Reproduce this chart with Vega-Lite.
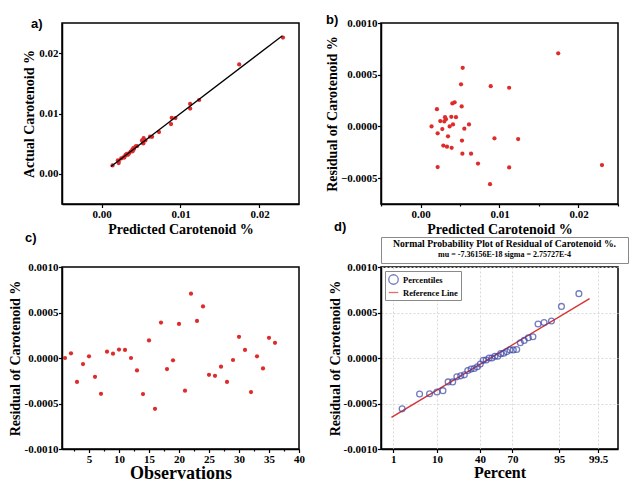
{
  "$schema": "https://vega.github.io/schema/vega-lite/v6.json",
  "background": "white",
  "padding": {"left": 7, "top": 13, "right": 0, "bottom": 0},
  "columns": 2,
  "bounds": "flush",
  "align": "each",
  "spacing": {"row": 4, "column": 82},
  "resolve": {"scale": {"color": "independent", "shape": "independent"}, "legend": {"color": "independent", "shape": "independent"}},
  "datasets": {
    "obs": [
      {"obs":1,"predicted":0.0014,"actual":0.0014,"residual":0.0},
      {"obs":2,"predicted":0.0025,"actual":0.002552,"residual":0.000052},
      {"obs":3,"predicted":0.0053,"actual":0.005037,"residual":-0.000263},
      {"obs":4,"predicted":0.00217,"actual":0.002103,"residual":-0.000067},
      {"obs":5,"predicted":0.00411,"actual":0.004129,"residual":0.000019},
      {"obs":6,"predicted":0.00394,"actual":0.003733,"residual":-0.000207},
      {"obs":7,"predicted":0.00217,"actual":0.001777,"residual":-0.000393},
      {"obs":8,"predicted":0.00322,"actual":0.00329,"residual":0.00007},
      {"obs":9,"predicted":0.00301,"actual":0.003058,"residual":0.000048},
      {"obs":10,"predicted":0.0039,"actual":0.003993,"residual":0.000093},
      {"obs":11,"predicted":0.00449,"actual":0.004579,"residual":0.000089},
      {"obs":12,"predicted":0.00369,"actual":0.00369,"residual":0.0},
      {"obs":13,"predicted":0.00525,"actual":0.005113,"residual":-0.000137},
      {"obs":14,"predicted":0.01122,"actual":0.010824,"residual":-0.000396},
      {"obs":15,"predicted":0.00521,"actual":0.005403,"residual":0.000193},
      {"obs":16,"predicted":0.0088,"actual":0.008241,"residual":-0.000559},
      {"obs":17,"predicted":0.00889,"actual":0.009279,"residual":0.000389},
      {"obs":18,"predicted":0.01236,"actual":0.012238,"residual":-0.000122},
      {"obs":19,"predicted":0.00276,"actual":0.002734,"residual":-0.000026},
      {"obs":20,"predicted":0.01122,"actual":0.011594,"residual":0.000374},
      {"obs":21,"predicted":0.00728,"actual":0.006921,"residual":-0.000359},
      {"obs":22,"predicted":0.01743,"actual":0.018137,"residual":0.000707},
      {"obs":23,"predicted":0.00513,"actual":0.005537,"residual":0.000407},
      {"obs":24,"predicted":0.00534,"actual":0.005907,"residual":0.000567},
      {"obs":25,"predicted":0.00289,"actual":0.002705,"residual":-0.000185},
      {"obs":26,"predicted":0.00335,"actual":0.003154,"residual":-0.000196},
      {"obs":27,"predicted":0.00348,"actual":0.003384,"residual":-0.000096},
      {"obs":28,"predicted":0.0064,"actual":0.006137,"residual":-0.000263},
      {"obs":29,"predicted":0.00555,"actual":0.005528,"residual":-0.000022},
      {"obs":30,"predicted":0.00432,"actual":0.004553,"residual":0.000233},
      {"obs":31,"predicted":0.0031,"actual":0.003189,"residual":0.000089},
      {"obs":32,"predicted":0.02297,"actual":0.022596,"residual":-0.000374},
      {"obs":33,"predicted":0.00614,"actual":0.006159,"residual":0.000019},
      {"obs":34,"predicted":0.00936,"actual":0.009245,"residual":-0.000115},
      {"obs":35,"predicted":0.00403,"actual":0.004252,"residual":0.000222},
      {"obs":36,"predicted":0.00208,"actual":0.002247,"residual":0.000167}
    ],
    "fit": [
      {"predicted":0.0012,"actual":0.0012},
      {"predicted":0.0229,"actual":0.0229}
    ],
    "normal": [
      {"quantile":-2.114,"residual":-0.000559},
      {"quantile":-1.697,"residual":-0.000396},
      {"quantile":-1.458,"residual":-0.000393},
      {"quantile":-1.2816,"residual":-0.000374},
      {"quantile":-1.138,"residual":-0.000359},
      {"quantile":-1.0145,"residual":-0.000263},
      {"quantile":-0.905,"residual":-0.000263},
      {"quantile":-0.8054,"residual":-0.000207},
      {"quantile":-0.713,"residual":-0.000196},
      {"quantile":-0.6265,"residual":-0.000185},
      {"quantile":-0.5445,"residual":-0.000137},
      {"quantile":-0.466,"residual":-0.000122},
      {"quantile":-0.39,"residual":-0.000115},
      {"quantile":-0.3164,"residual":-0.000096},
      {"quantile":-0.2445,"residual":-0.000067},
      {"quantile":-0.1738,"residual":-0.000026},
      {"quantile":-0.104,"residual":-0.000022},
      {"quantile":-0.0346,"residual":0.0},
      {"quantile":0.0346,"residual":0.0},
      {"quantile":0.104,"residual":0.000019},
      {"quantile":0.1738,"residual":0.000019},
      {"quantile":0.2445,"residual":0.000048},
      {"quantile":0.3164,"residual":0.000052},
      {"quantile":0.39,"residual":0.00007},
      {"quantile":0.466,"residual":0.000089},
      {"quantile":0.5445,"residual":0.000089},
      {"quantile":0.6265,"residual":0.000093},
      {"quantile":0.713,"residual":0.000167},
      {"quantile":0.8054,"residual":0.000193},
      {"quantile":0.905,"residual":0.000222},
      {"quantile":1.0145,"residual":0.000233},
      {"quantile":1.138,"residual":0.000374},
      {"quantile":1.2816,"residual":0.000389},
      {"quantile":1.458,"residual":0.000407},
      {"quantile":1.697,"residual":0.000567},
      {"quantile":2.114,"residual":0.000707}
    ],
    "refline": [
      {"quantile":-2.37,"residual":-0.000653},
      {"quantile":2.37,"residual":0.000653}
    ]
  },
  "concat": [
    {
      "width": 237, "height": 181,
      "title": {"text": "a)", "dx": -31, "offset": 0, "dy": 8},
      "layer": [
        {
          "data": {"name": "obs"},
          "mark": {"type": "circle", "color": "#dd2c2c", "size": 18, "opacity": 1},
          "encoding": {
            "x": {"field": "predicted", "type": "quantitative",
              "scale": {"domain": [-0.005, 0.025], "nice": false, "zero": false},
              "axis": {"title": "Predicted Carotenoid %", "titlePadding": 3, "values": [0, 0.01, 0.02], "format": ".2f"}},
            "y": {"field": "actual", "type": "quantitative",
              "scale": {"domain": [-0.005, 0.025], "nice": false, "zero": false},
              "axis": {"title": "Actual Carotenoid %", "titlePadding": 2, "values": [0, 0.01, 0.02], "format": ".2f"}}
          }
        },
        {
          "data": {"name": "fit"},
          "mark": {"type": "line", "color": "black", "strokeWidth": 1.3},
          "encoding": {
            "x": {"field": "predicted", "type": "quantitative",
              "axis": {"title": "Predicted Carotenoid %", "titlePadding": 3, "values": [0, 0.01, 0.02], "format": ".2f"}},
            "y": {"field": "actual", "type": "quantitative",
              "axis": {"title": "Actual Carotenoid %", "titlePadding": 2, "values": [0, 0.01, 0.02], "format": ".2f"}}
          }
        }
      ]
    },
    {
      "width": 237, "height": 181,
      "title": {"text": "b)", "dx": -55, "offset": 0, "dy": 10},
      "layer": [
        {
          "data": {"name": "obs"},
          "mark": {"type": "circle", "color": "#dd2c2c", "size": 18, "opacity": 1},
          "encoding": {
            "x": {"field": "predicted", "type": "quantitative",
              "scale": {"domain": [-0.005, 0.025], "nice": false, "zero": false},
              "axis": {"title": "Predicted Carotenoid %", "titlePadding": 3, "labelOverlap": false,
                "values": [0, -0.005, 0.01, 0.005, 0.02, 0.015, 0.025],
                "labelExpr": "round(datum.value*200) % 2 != 0 ? '' : format(datum.value, '.2f')",
                "tickDash": {"condition": {"test": "round(datum.value*200) % 2 != 0", "value": [2, 20]}, "value": [20, 0]}}},
            "y": {"field": "residual", "type": "quantitative",
              "scale": {"domain": [-0.00075, 0.001], "nice": false, "zero": false},
              "axis": {"title": "Residual of Carotenoid %", "titlePadding": 1, "values": [-0.0005, 0, 0.0005, 0.001], "format": ".4f"}}
          }
        },
        {
          "mark": {"type": "rule", "color": "black", "strokeWidth": 1.5},
          "encoding": {"y": {"datum": 0,
            "axis": {"title": "Residual of Carotenoid %", "titlePadding": 1, "values": [-0.0005, 0, 0.0005, 0.001], "format": ".4f"}}}
        }
      ]
    },
    {"width": 237, "height": 25, "data": {"values": []}, "mark": "point", "view": {"stroke": null}},
    {"width": 237, "height": 25, "data": {"values": []}, "mark": "point", "view": {"stroke": null}},
    {"width": 237, "height": 26, "data": {"values": []}, "mark": "point", "view": {"stroke": null}},
    {
      "width": 247, "height": 26,
      "data": {"values": []}, "mark": "point",
      "view": {"stroke": "#8a8a8a", "strokeWidth": 1, "fill": "white"},
      "title": {
        "text": "Normal Probability Plot of Residual of Carotenoid %.",
        "subtitle": "mu = -7.36156E-18  sigma = 2.75727E-4",
        "anchor": "middle", "offset": -22,
        "font": "Liberation Serif", "fontSize": 9.7, "fontWeight": "bold", "color": "black",
        "subtitleFont": "Liberation Serif", "subtitleFontSize": 8, "subtitleFontWeight": "bold",
        "subtitleColor": "black", "subtitlePadding": 2
      }
    },
    {
      "width": 237, "height": 182,
      "title": {"text": "c)", "dx": -37, "offset": 16},
      "layer": [
        {
          "data": {"name": "obs"},
          "mark": {"type": "circle", "color": "#dd2c2c", "size": 18, "opacity": 1},
          "encoding": {
            "x": {"field": "obs", "type": "quantitative",
              "scale": {"domain": [0.5, 40], "nice": false, "zero": false},
              "axis": {"title": "Observations", "titleFontSize": 18, "titlePadding": 0, "labelOverlap": false,
                "values": [2.5, 5, 7.5, 10, 12.5, 15, 17.5, 20, 22.5, 25, 27.5, 30, 32.5, 35, 37.5, 40],
                "labelExpr": "datum.value % 5 != 0 ? '' : format(datum.value, 'd')",
                "tickDash": {"condition": {"test": "datum.value % 5 != 0", "value": [2, 20]}, "value": [20, 0]}}},
            "y": {"field": "residual", "type": "quantitative",
              "scale": {"domain": [-0.001, 0.001], "nice": false, "zero": false},
              "axis": {"title": "Residual of Carotenoid %", "titlePadding": 2, "labelOverlap": false,
                "values": [-0.001, -0.00075, -0.0005, -0.00025, 0, 0.00025, 0.0005, 0.00075, 0.001],
                "labelExpr": "round(datum.value*4000) % 2 != 0 ? '' : replace(format(datum.value, '.4f'), '\u2212', '-')",
                "tickDash": {"condition": {"test": "round(datum.value*4000) % 2 != 0", "value": [2, 20]}, "value": [20, 0]}}}
          }
        },
        {
          "mark": {"type": "rule", "color": "black", "strokeWidth": 1.5},
          "encoding": {"y": {"datum": 0}}
        }
      ]
    },
    {
      "width": 237, "height": 182,
      "title": {"text": "d)", "dx": -47, "offset": 27},
      "layer": [
        {
          "data": {"name": "refline"},
          "mark": {"type": "line", "strokeWidth": 1.4},
          "encoding": {
            "x": {"field": "quantile", "type": "quantitative",
              "scale": {"domain": [-2.62, 3.05], "nice": false, "zero": false},
              "axis": {"title": "Percent", "titleFontSize": 16, "titlePadding": 0, "labelOverlap": false,
                "values": [-2.3263, -1.2816, -0.2533, 0.5244, 1.6449, 2.5758],
                "labelExpr": "datum.value < -2 ? '1' : datum.value < -1 ? '10' : datum.value < 0 ? '40' : datum.value < 1 ? '70' : datum.value < 2 ? '95' : '99.5'",
                "grid": true, "gridColor": "#d9d9d9", "gridDash": [2, 2], "gridWidth": 1}},
            "y": {"field": "residual", "type": "quantitative",
              "scale": {"domain": [-0.001, 0.001], "nice": false, "zero": false},
              "axis": {"title": "Residual of Carotenoid %", "titlePadding": 1, "labelOverlap": false,
                "values": [-0.001, -0.00075, -0.0005, -0.00025, 0, 0.00025, 0.0005, 0.00075, 0.001],
                "labelExpr": "round(datum.value*4000) % 2 != 0 ? '' : replace(format(datum.value, '.4f'), '\u2212', '-')",
                "tickDash": {"condition": {"test": "round(datum.value*4000) % 2 != 0", "value": [2, 20]}, "value": [20, 0]},
                "grid": true, "gridColor": "#d9d9d9", "gridDash": [2, 2], "gridWidth": 1}},
            "color": {"datum": "Reference Line", "type": "nominal",
              "scale": {"domain": ["Percentiles", "Reference Line"], "range": ["#3a46a6", "#d83232"]},
              "legend": {
                "title": null, "orient": "top-left", "offset": 4, "padding": 3,
                "fillColor": "white", "strokeColor": "#8a8a8a",
                "labelFont": "Liberation Serif", "labelFontWeight": "bold", "labelFontSize": 8.5, "labelColor": "black",
                "symbolSize": 90, "symbolStrokeWidth": 1.3, "rowPadding": 0, "labelOffset": 4
              }}
          }
        },
        {
          "data": {"name": "normal"},
          "mark": {"type": "point", "filled": false, "size": 34, "strokeWidth": 1.3},
          "encoding": {
            "x": {"field": "quantile", "type": "quantitative"},
            "y": {"field": "residual", "type": "quantitative"},
            "color": {"datum": "Percentiles", "type": "nominal"},
            "shape": {"datum": "Percentiles", "type": "nominal",
              "scale": {"domain": ["Percentiles", "Reference Line"], "range": ["circle", "stroke"]},
              "legend": {"title": null, "orient": "top-left", "offset": 4, "padding": 3,
                "fillColor": "white", "strokeColor": "#8a8a8a",
                "labelFont": "Liberation Serif", "labelFontWeight": "bold", "labelFontSize": 8.5, "labelColor": "black",
                "symbolSize": 90, "symbolStrokeWidth": 1.3, "rowPadding": 0, "labelOffset": 4}}
          }
        }
      ]
    }
  ],
  "config": {
    "view": {"stroke": "black", "strokeWidth": 1.5},
    "title": {"font": "Liberation Sans", "fontSize": 13, "fontWeight": "bold", "color": "black", "anchor": "start", "frame": "group"},
    "axis": {
      "labelFont": "Liberation Serif", "labelFontWeight": "bold", "labelFontSize": 11, "labelColor": "black",
      "titleFont": "Liberation Serif", "titleFontWeight": "bold", "titleFontSize": 14, "titleColor": "black",
      "domainColor": "black", "domainWidth": 1.5, "tickColor": "black", "tickWidth": 1.2, "tickSize": 3.5,
      "labelPadding": 0.5, "titlePadding": 3, "grid": false,
      "labelOverlap": false, "labelFlush": false, "labelBound": false
    }
  }
}
